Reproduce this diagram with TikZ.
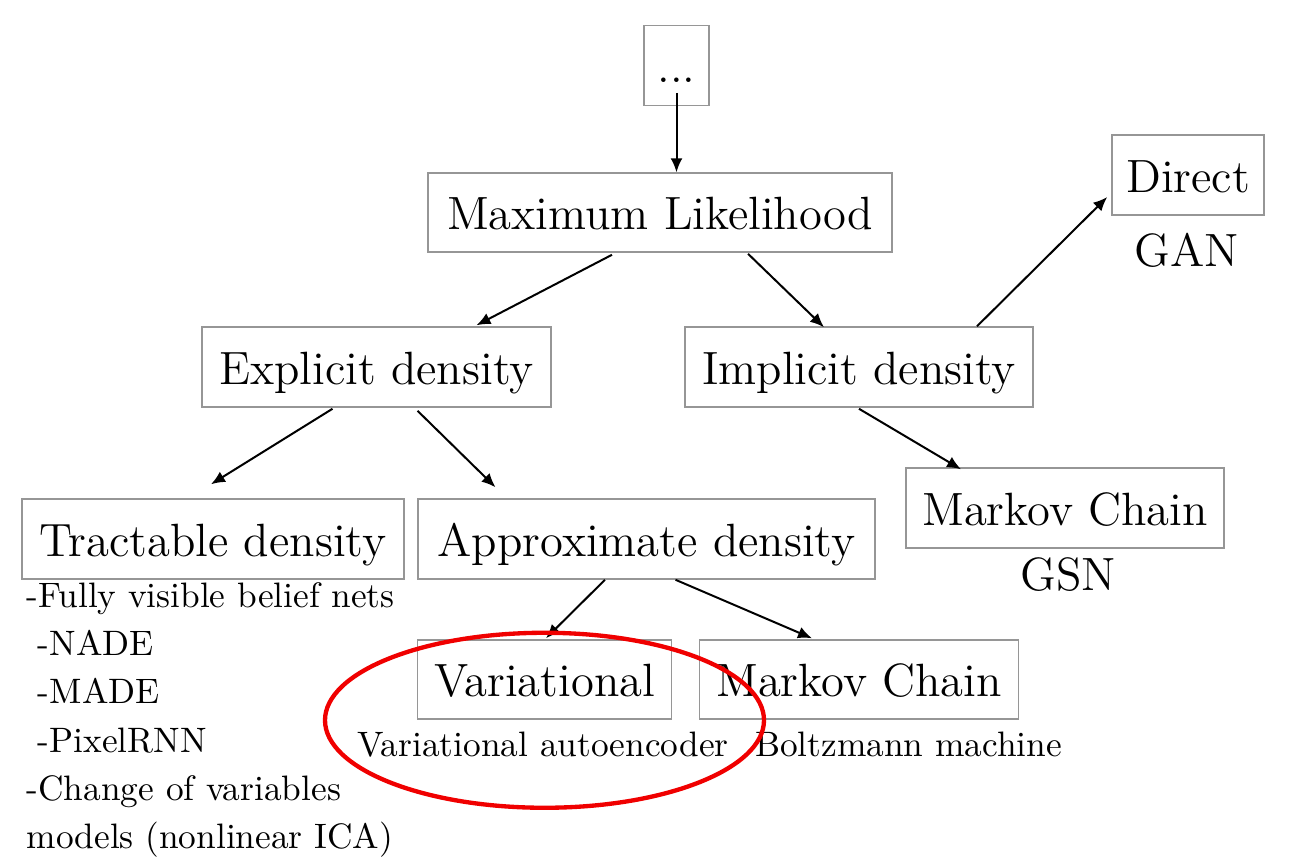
\documentclass[tikz,border=0pt]{standalone}
\usetikzlibrary{arrows.meta,calc}
\definecolor{boxgray}{RGB}{150,150,150}
\definecolor{circred}{RGB}{240,0,0}
\tikzset{
  px/.style={x=0.3pt,y=-0.3pt},
  bigbox/.style={draw=boxgray,line width=0.45pt,inner sep=0pt,text height=10.2pt,text depth=0pt,font=\fontsize{14}{16}\selectfont},
  bigtext/.style={inner sep=0pt,anchor=base,font=\fontsize{14}{16}\selectfont},
  smalltext/.style={inner sep=0pt,anchor=base,font=\fontsize{10.6}{14.5}\selectfont},
  conn/.style={line width=0.6pt,-{Latex[length=4.2pt,width=3.6pt]}}
}
\begin{document}
\begin{tikzpicture}[px]
\useasboundingbox (0,0) rectangle (1299,863);
% boxes
\node[bigbox,minimum width=19.5pt,minimum height=24pt] (dots) at (676.5,65.5) {...};
\node[bigbox,minimum width=139.2pt,minimum height=23.7pt] (ml) at (660,212.5) {Maximum Likelihood};
\node[bigbox,minimum width=45.6pt,minimum height=24pt] (direct) at (1188,175) {Direct};
\node[bigbox,minimum width=104.7pt,minimum height=24pt] (expl) at (376.5,367) {Explicit density};
\node[bigbox,minimum width=104.4pt,minimum height=24pt] (impl) at (859,367) {Implicit density};
\node[bigbox,minimum width=114.6pt,minimum height=24pt] (tract) at (213,539) {Tractable density};
\node[bigbox,minimum width=137.1pt,minimum height=24pt] (approx) at (646.5,539) {Approximate density};
\node[bigbox,minimum width=95.4pt,minimum height=24pt] (mcr) at (1065,508) {Markov Chain};
\node[bigbox,minimum width=76.2pt,minimum height=23.7pt] (var) at (544.5,679.5) {Variational};
\node[bigbox,minimum width=95.7pt,minimum height=23.7pt] (mcb) at (859,679.5) {Markov Chain};
% labels
\node[bigtext] (gan) at (1187,266) {GAN};
\node[bigtext] (gsn) at (1068,590) {GSN};
\node[smalltext] (vae) at (543,756) {Variational autoencoder};
\node[smalltext] (bm) at (908.5,756) {Boltzmann machine};
\node[inner sep=0pt,anchor=north west,align=left,font=\fontsize{10.6}{14.5}\selectfont] (list) at (26,581.5)
  {-Fully visible belief nets\\
   \hspace*{3.4pt}-NADE\\
   \hspace*{3.4pt}-MADE\\
   \hspace*{3.4pt}-PixelRNN\\
   -Change of variables\\
   models (nonlinear ICA)};
% connectors
\draw[conn] ($(dots.south)+(0,-13.5)$) -- (dots.south |- ml.north);
\draw[conn] ($(ml.south)+(-48,2)$) -- ($(expl.north)+(100,-1)$);
\draw[conn] ($(ml.south)+(88,1)$) -- ($(impl.north)+(-35,1)$);
\draw[conn] ($(impl.north)+(118,0)$) -- ($(direct.west)+(-4,22)$);
\draw[conn] ($(expl.south)+(-44,1)$) -- ($(tract.north)+(-2,-14)$);
\draw[conn] ($(expl.south)+(41,3)$) -- ($(approx.north)+(-151,-11)$);
\draw[conn] ($(impl.south)+(0,1)$) -- ($(mcr.north)+(-104,2)$);
\draw[conn] ($(approx.south)+(-41.5,0)$) -- ($(var.north)+(1.5,-1)$);
\draw[conn] ($(approx.south)+(29,0)$) -- ($(mcb.north)+(-47,-1)$);
% highlight
\draw[circred,line width=1.3pt] (var.south) ++(0,0.5) coordinate (ec) ellipse [x radius=219.5, y radius=87.5];
\end{tikzpicture}
\end{document}
